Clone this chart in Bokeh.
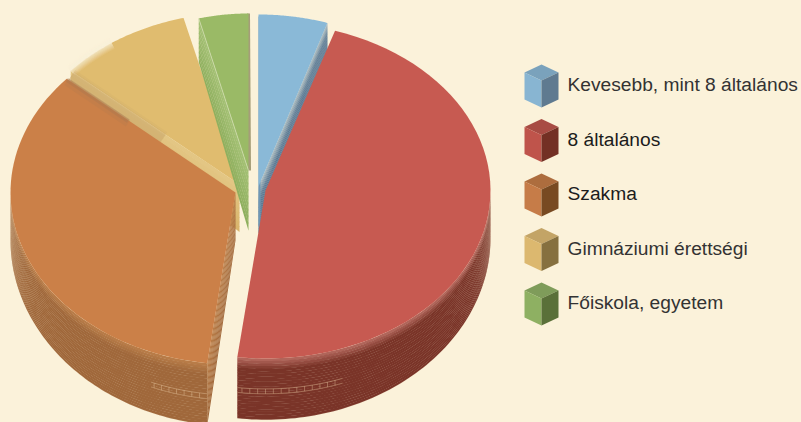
import numpy as np
from bokeh.plotting import figure
from bokeh.models import Range1d
from bokeh.core.properties import value
from bokeh.embed import file_html
from bokeh.resources import INLINE

categories = ["Kevesebb, mint 8 általános", "8 általános", "Szakma", "Gimnáziumi érettségi", "Főiskola, egyetem"]
shares = [5.0, 47.0, 34.5, 9.5, 4.0]

BG = "#fbf2da"
TOP = ["#8ab9d7", "#c75a51", "#cb8048", "#e0bc6f", "#9aba66"]
TXT = ["#333333", "#1c1c1c", "#1c1c1c", "#333333", "#333333"]
CUBE_L = ["#88b5d2", "#bf544b", "#c67c48", "#dcb86f", "#8eb062"]
CUBE_T = ["#7aa2bc", "#a84c44", "#ad6d3e", "#c3a466", "#7f9c5a"]
CUBE_R = ["#5f7a90", "#733024", "#784a22", "#86703f", "#5a7039"]
WALL_A = ["#a3b5bd", "#b0655a", "#b87c48", "#e3c684", "#a3c074"]
WALL_B = ["#4f7190", "#7a3428", "#a0683b", "#d9b56c", "#8fb05f"]
CX = [258, 265, 235, 239, 248]
CY = [186, 190, 192, 184, 170]
RX = [223, 225, 225, 225, 200]
RY = [172, 168, 172, 172, 157]

p = figure(width=801, height=422, x_range=Range1d(0, 801), y_range=Range1d(422, 0),
           output_backend="svg", toolbar_location=None, min_border=0,
           background_fill_color=BG, border_fill_color=BG, outline_line_color=None)
p.axis.visible = False
p.grid.visible = False

edges = np.concatenate([[0], np.cumsum(shares)]) / sum(shares) * 360


def pt(i, theta):
    t = np.radians(theta)
    return CX[i] + RX[i] * np.sin(t), CY[i] - RY[i] * np.cos(t)


def depth(y):
    return 33 + (y - 15) / 345 * 28


def lerp(a, b, t):
    ca = [int(a[j:j + 2], 16) for j in (1, 3, 5)]
    cb = [int(b[j:j + 2], 16) for j in (1, 3, 5)]
    return "#%02x%02x%02x" % tuple(int(round(u + (v - u) * t)) for u, v in zip(ca, cb))


def ribbons(i, xs, ys, n, ease=1.0, stripe=0, scale=1.0, alpha=0.18):
    xs, ys = np.asarray(xs, float), np.asarray(ys, float)
    d = depth(ys) * scale
    for k in range(n):
        f0, f1 = k / n, (k + 1.15) / n
        col = lerp(WALL_A[i], WALL_B[i], min(1, (k / max(n - 1, 1)) * ease))
        p.patch(np.r_[xs, xs[::-1]], np.r_[ys + d * f0, (ys + d * f1)[::-1]],
                fill_color=col, line_color=None)
        if stripe and k % stripe == stripe - 1:
            p.line(xs, ys + d * f1, line_color="#f3e3bd", line_alpha=alpha, line_width=0.7)


def top(i):
    th = np.linspace(edges[i], edges[i + 1], 60)
    x, y = pt(i, th)
    return np.r_[CX[i], x], np.r_[CY[i], y]


def radial(i, theta):
    x, y = pt(i, theta)
    return np.linspace(CX[i], x, 12), np.linspace(CY[i], y, 12)


def outer(i, a, b):
    th = np.linspace(a, b, 80)
    return pt(i, th)


# yellow slice
rx_, ry_ = radial(3, edges[3])
ribbons(3, rx_, ry_, 10, stripe=2, alpha=.35)
x_, y_ = top(3)
p.patch(x_, y_, fill_color=TOP[3], line_color=None)
ax, ay = outer(3, edges[3], edges[3] + 14)
for w, al in [(13, .1), (11, .12), (9, .14), (7, .16), (5, .18), (3, .2), (1.5, .25)]:
    p.line(ax, ay, line_color=BG, line_alpha=al, line_width=w)
bx, by = radial(3, edges[3])
for w, al in [(16, .18), (12, .22), (8, .25)]:
    p.line(bx[5:], by[5:] + 6, line_color="#c9a468", line_alpha=al, line_width=w)

# green slice
rx_, ry_ = radial(4, edges[4])
ribbons(4, rx_, ry_, 9, stripe=2, scale=1.3, alpha=.35)
ax, ay = outer(4, edges[4], edges[5])
p.line([ax[-1], CX[4] + 1], [ay[-1], CY[4]], line_color="#a59d78", line_width=3)
x_, y_ = top(4)
p.patch(x_, y_, fill_color=TOP[4], line_color=None)
rx_, ry_ = radial(4, edges[4])
p.line(rx_, ry_, line_color="#cfdcae", line_width=0.8)

# blue slice
rx_, ry_ = radial(0, edges[1])
ribbons(0, rx_, ry_, 22, ease=3)
x_, y_ = top(0)
p.line([CX[0] + 1, CX[0] + 1], [CY[0] - 170, CY[0] + 40], line_color="#6f97b6", line_width=2)
p.patch(x_, y_, fill_color=TOP[0], line_color=None)

# orange slice
rx_, ry_ = radial(2, edges[2])
ribbons(2, rx_, ry_, 10, ease=.9)
ox, oy = outer(2, edges[2], 270)
ribbons(2, ox, oy, 24, ease=6, stripe=3)
x_, y_ = top(2)
p.patch(x_, y_, fill_color=TOP[2], line_color=None)
ex, ey = radial(2, edges[3])
for w, al, off in [(8, .2, 3), (4, .4, 1)]:
    p.line(ex[7:], ey[7:] + off, line_color="#a9774f", line_alpha=al, line_width=w)

# red slice
ox, oy = outer(1, 90, edges[2])
ribbons(1, ox, oy, 24, ease=6, stripe=3)
x_, y_ = top(1)
p.patch(x_, y_, fill_color=TOP[1], line_color=None)

# band of small cells half way down the front wall
for i, a, b in [(1, 160, edges[2]), (2, edges[2], 202)]:
    wx, wy = outer(i, a, b)
    for f in (.5, .58):
        p.line(wx, wy + depth(wy) * f, line_color="#e8c9a0", line_alpha=.5, line_width=.8)
    tx, ty = pt(i, np.arange(a + 2, b, 2.0))
    for tx0, ty0 in zip(tx, ty):
        p.line([tx0, tx0], [ty0 + depth(ty0) * .5, ty0 + depth(ty0) * .58],
               line_color="#e8c9a0", line_alpha=.5, line_width=.8)

# legend: a small cube and a label per category
for i, name in enumerate(categories):
    c = 541
    y0 = 64 + 54.5 * i
    p.patch([c, c + 17, c, c - 17], [y0, y0 + 8, y0 + 16, y0 + 8], fill_color=CUBE_T[i], line_color=None)
    p.patch([c - 17, c, c, c - 17], [y0 + 8, y0 + 16, y0 + 43, y0 + 35], fill_color=CUBE_L[i], line_color=None)
    p.patch([c + 17, c, c, c + 17], [y0 + 8, y0 + 16, y0 + 43, y0 + 35], fill_color=CUBE_R[i], line_color=None)
    p.text([567], [y0 + 20], text=[name], text_font=value("Liberation Sans"), text_font_size="19.2px",
           text_color=TXT[i], text_baseline="middle", text_align="left")

html = file_html(p, INLINE)
html = html.replace("</head>", "<style>html,body{margin:0;padding:0;background:#fbf2da;overflow:hidden}</style></head>")
open("out.html", "w").write(html)
